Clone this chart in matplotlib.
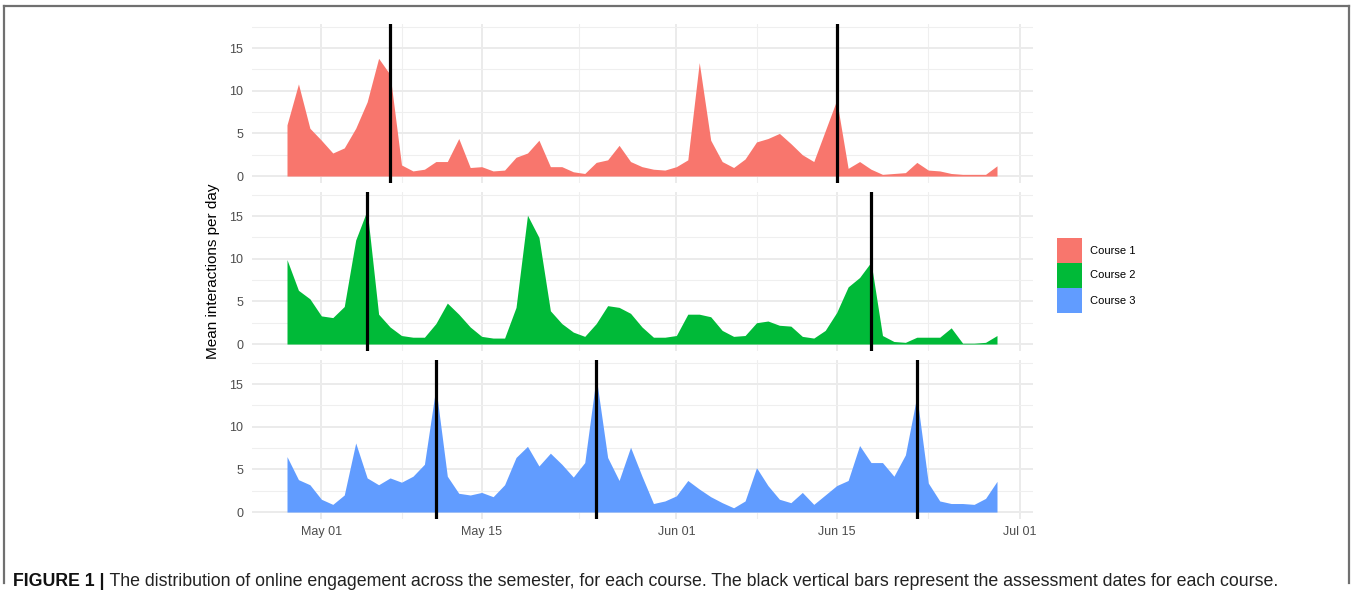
import numpy as np
import pandas as pd
import matplotlib
matplotlib.use("Agg")
import matplotlib.pyplot as plt
import matplotlib.dates as mdates
from matplotlib.patches import Rectangle
from matplotlib.lines import Line2D

# ---------------- data ----------------
start_date = "2021-04-28"
course1 = [6.0, 10.8, 5.6, 4.2, 2.7, 3.3, 5.6, 8.7, 13.8, 11.9,
           1.3, 0.6, 0.8, 1.7, 1.7, 4.4, 1.0, 1.1, 0.6, 0.7,
           2.2, 2.7, 4.2, 1.1, 1.1, 0.5, 0.3, 1.6, 1.9, 3.6,
           1.7, 1.1, 0.8, 0.7, 1.1, 1.9, 13.3, 4.2, 1.7, 1.0,
           2.0, 4.0, 4.4, 5.0, 3.8, 2.5, 1.7, 5.3, 8.9, 0.9,
           1.7, 0.8, 0.2, 0.3, 0.4, 1.6, 0.7, 0.6, 0.3, 0.2,
           0.2, 0.2, 1.2]
course2 = [9.9, 6.3, 5.3, 3.3, 3.1, 4.4, 12.2, 15.7, 3.5, 2.0,
           1.0, 0.8, 0.8, 2.4, 4.8, 3.5, 2.0, 0.9, 0.7, 0.7,
           4.3, 15.1, 12.5, 3.9, 2.4, 1.4, 0.9, 2.4, 4.5, 4.3,
           3.6, 2.0, 0.8, 0.8, 1.0, 3.5, 3.5, 3.2, 1.6, 0.9,
           1.0, 2.5, 2.7, 2.2, 2.1, 0.9, 0.7, 1.6, 3.7, 6.7,
           7.8, 9.6, 1.0, 0.3, 0.2, 0.8, 0.8, 0.8, 1.9, 0.1,
           0.1, 0.2, 1.0]
course3 = [6.5, 3.8, 3.2, 1.5, 0.9, 2.0, 8.1, 4.0, 3.2, 4.0,
           3.5, 4.2, 5.6, 14.6, 4.2, 2.2, 2.0, 2.3, 1.8, 3.2,
           6.4, 7.7, 5.4, 6.9, 5.6, 4.1, 5.8, 15.8, 6.4, 3.7,
           7.6, 4.2, 1.0, 1.3, 1.9, 3.7, 2.7, 1.8, 1.1, 0.5,
           1.3, 5.2, 3.1, 1.5, 1.1, 2.3, 0.9, 2.0, 3.1, 3.7,
           7.8, 5.8, 5.8, 4.2, 6.7, 13.6, 3.4, 1.3, 1.0, 1.0,
           0.9, 1.6, 3.6]
courses = ["Course 1", "Course 2", "Course 3"]
assess1 = ["2021-05-07", "2021-06-15"]
assess2 = ["2021-05-05", "2021-06-18"]
assess3 = ["2021-05-11", "2021-05-25", "2021-06-22"]
x_ticks = ["2021-05-01", "2021-05-15", "2021-06-01", "2021-06-15", "2021-07-01"]
x_tick_labels = ["May 01", "May 15", "Jun 01", "Jun 15", "Jul 01"]
y_ticks = [0, 5, 10, 15]
y_label = "Mean interactions per day"
caption_bold = "FIGURE 1 |"
caption_text = (" The distribution of online engagement across the semester, for each course. "
                "The black vertical bars represent the assessment dates for each course.")

# ---------------- style ----------------
colors = ["#F8766D", "#00BA38", "#619CFF"]
plt.rcParams['font.family'] = ['Liberation Sans', 'DejaVu Sans']

W, H = 1352, 604
fig = plt.figure(figsize=(W / 100, H / 100), dpi=100)
fig.patch.set_facecolor("white")

dates = pd.date_range(start_date, periods=len(course1), freq="D")
xnum = mdates.date2num(dates.to_pydatetime())
span = xnum[-1] - xnum[0]
xlim = (xnum[0] - 0.05 * span, xnum[-1] + 0.05 * span)
ylim = (-0.85, 17.8)

major_x = mdates.date2num(pd.to_datetime(x_ticks).to_pydatetime())
minor_x = (major_x[:-1] + major_x[1:]) / 2
minor_y = [2.5, 7.5, 12.5, 17.5]

panel_px = [(24.2, 183.3), (192.2, 351.3), (360.2, 519.3)]
left_px, right_px = 251.5, 1032.5

series = [course1, course2, course3]
assess = [assess1, assess2, assess3]

for k, (vals, col, ad, (top, bot)) in enumerate(zip(series, colors, assess, panel_px)):
    ax = fig.add_axes([left_px / W, 1 - bot / H, (right_px - left_px) / W, (bot - top) / H])
    ax.fill_between(xnum, 0, vals, color=col, lw=0, zorder=2)
    for d in ad:
        ax.axvline(mdates.date2num(pd.Timestamp(d).to_pydatetime()), color="black", lw=2.3, zorder=3)
    ax.set_xlim(*xlim)
    ax.set_ylim(*ylim)
    ax.set_xticks(major_x)
    ax.set_xticks(minor_x, minor=True)
    ax.set_yticks(y_ticks)
    ax.set_yticks(minor_y, minor=True)
    ax.set_yticklabels([str(v) for v in y_ticks])
    if k == 2:
        ax.set_xticklabels(x_tick_labels)
    else:
        ax.set_xticklabels([])
    ax.grid(which="major", color="#EBEBEB", lw=1.4, zorder=0)
    ax.grid(which="minor", color="#EFEFEF", lw=0.8, zorder=0)
    ax.set_axisbelow(True)
    for s in ax.spines.values():
        s.set_visible(False)
    ax.tick_params(which="both", length=0, labelsize=9, labelcolor="#4D4D4D")
    ax.tick_params(axis="y", pad=6)
    ax.tick_params(axis="x", pad=5)
    ax.set_facecolor("white")

# y label
fig.text(213 / W, 1 - 271.5 / H, y_label, rotation=90, ha="center", va="center",
         fontsize=11, color="black")

# legend (manual keys)
key_x, key_w, key_h, key_top = 1057, 25, 25, 238
for i, (name, col) in enumerate(zip(courses, colors)):
    y0 = key_top + i * key_h
    fig.add_artist(Rectangle((key_x / W, 1 - (y0 + key_h) / H), key_w / W, key_h / H,
                             transform=fig.transFigure, facecolor=col, edgecolor="none"))
    fig.text(1090 / W, 1 - (y0 + key_h / 2) / H, name, ha="left", va="center",
             fontsize=8, color="black")

# caption, fitted to span
cap_left, cap_right, cap_y = 13, 1277, 581
renderer = fig.canvas.get_renderer()
fs = 11.0
t1 = fig.text(cap_left / W, 1 - cap_y / H, caption_bold, ha="left", va="center",
              fontsize=fs, fontweight="bold", color="#111111")
t2 = fig.text(0, 1 - cap_y / H, caption_text, ha="left", va="center",
              fontsize=fs, color="#222222")
for _ in range(3):
    b1 = t1.get_window_extent(renderer)
    t2.set_x(b1.x1 / W)
    b2 = t2.get_window_extent(renderer)
    total = b2.x1 - b1.x0
    fs = fs * (cap_right - cap_left) / total
    t1.set_fontsize(fs)
    t2.set_fontsize(fs)
b1 = t1.get_window_extent(renderer)
t2.set_x(b1.x1 / W)

# outer frame
fc = "#707070"
fig.add_artist(Line2D([4 / W, 1349 / W], [1 - 6 / H, 1 - 6 / H], transform=fig.transFigure, color=fc, lw=1.6))
fig.add_artist(Line2D([4 / W, 4 / W], [1 - 6 / H, 1 - 583 / H], transform=fig.transFigure, color=fc, lw=1.6))
fig.add_artist(Line2D([1349 / W, 1349 / W], [1 - 6 / H, 1 - 583 / H], transform=fig.transFigure, color=fc, lw=1.6))

fig.savefig("out.png", dpi=100)
